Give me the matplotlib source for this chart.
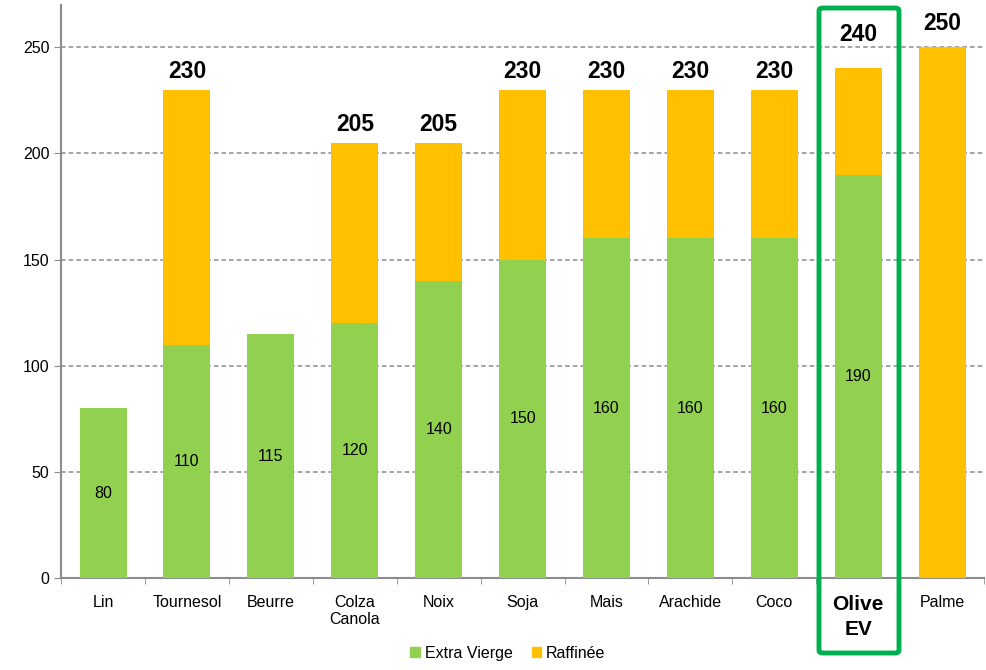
import matplotlib.pyplot as plt
from matplotlib.patches import FancyBboxPatch, Patch

plt.rcParams['font.family'] = ['Liberation Sans', 'DejaVu Sans']

# smoke points (°C): extra virgin part and refined total
oils = ['Lin', 'Tournesol', 'Beurre', 'Colza\nCanola', 'Noix', 'Soja', 'Mais',
        'Arachide', 'Coco', 'Olive\nEV', 'Palme']
extra_vierge = [80, 110, 115, 120, 140, 150, 160, 160, 160, 190, 0]
total = [80, 230, 115, 205, 205, 230, 230, 230, 230, 240, 250]
top_labels = ['', '230', '', '205', '205', '230', '230', '230', '230', '240', '250']

green = '#92D050'
orange = '#FFC000'

raffinee = [t - e for t, e in zip(total, extra_vierge)]
x = list(range(len(oils)))

fig = plt.figure(figsize=(9.86, 6.70), dpi=100)
ax = fig.add_axes([0.062, 0.137, 0.936, 0.856])

ax.bar(x, extra_vierge, width=0.56, color=green, zorder=3)
ax.bar(x, raffinee, bottom=extra_vierge, width=0.56, color=orange, zorder=3)

# value of the green part, centred in the segment
for xi, v in zip(x, extra_vierge):
    if v > 0:
        ax.text(xi, v / 2, str(v), ha='center', va='center', fontsize=11.5, zorder=4)

# bold total above each bar
for xi, t, lab in zip(x, total, top_labels):
    if lab:
        off = 16 if oils[xi].startswith('Olive') else 8.5
        if oils[xi] == 'Palme':
            off = 11
        ax.text(xi, t + off, lab, ha='center', va='center', fontsize=16.5,
                fontweight='bold', zorder=4)

ax.set_xlim(-0.5, len(oils) - 0.5)
ax.set_ylim(0, 270)
ax.set_yticks([0, 50, 100, 150, 200, 250])
ax.yaxis.grid(True, linestyle=(0, (3, 2)), color='#8c8c8c', linewidth=1.1, zorder=0)

ax.set_xticks(x)
ax.set_xticklabels(oils, fontsize=11.5)
for lbl in ax.get_xticklabels():
    if lbl.get_text().startswith('Olive'):
        lbl.set_fontsize(15)
        lbl.set_fontweight('bold')
        lbl.set_linespacing(1.4)
ax.set_xticks([i + 0.5 for i in range(-1, len(oils))], minor=True)
ax.tick_params(axis='x', which='major', length=0, pad=12)
ax.tick_params(axis='x', which='minor', length=4, color='#8c8c8c')
ax.tick_params(axis='y', length=5, color='#8c8c8c', labelsize=11.5)

for s in ['top', 'right']:
    ax.spines[s].set_visible(False)
for s in ['left', 'bottom']:
    ax.spines[s].set_color('#8c8c8c')
    ax.spines[s].set_linewidth(1.5)

# highlight box around olive oil
box = FancyBboxPatch((819 / 986, 17 / 670), 80 / 986, 645 / 670,
                     boxstyle='round,pad=0,rounding_size=0.004',
                     transform=fig.transFigure, fill=False,
                     edgecolor='#00B050', linewidth=3.5, zorder=10)
fig.patches.append(box)

handles = [Patch(color=green, label='Extra Vierge'), Patch(color=orange, label='Raffinée')]
fig.legend(handles=handles, loc='center', bbox_to_anchor=(0.515, 0.025), ncol=2,
           frameon=False, fontsize=11.5, handlelength=0.6, handleheight=0.6,
           handletextpad=0.3, columnspacing=1.2)

fig.savefig('out.png', dpi=100)
